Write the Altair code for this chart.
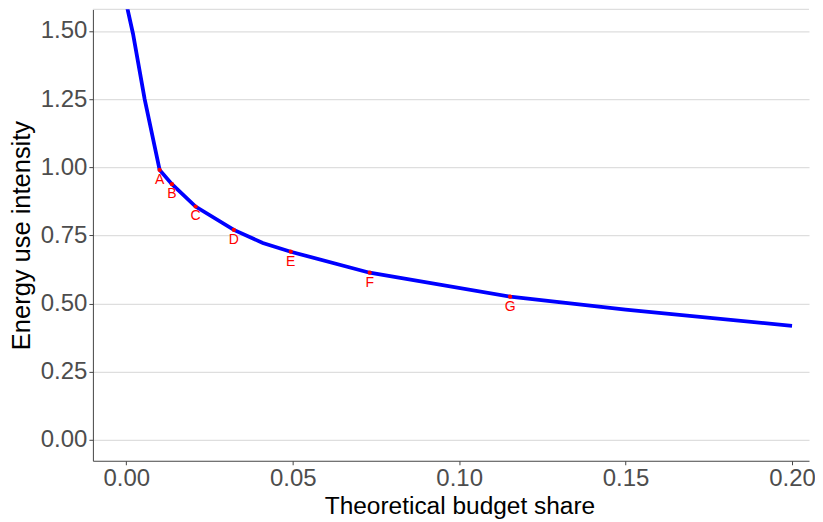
import altair as alt
import pandas as pd

# Curve
line_x = [0.0, 0.002, 0.0055, 0.01, 0.0137, 0.0208, 0.0323, 0.041, 0.0494, 0.0731, 0.1153, 0.15, 0.2]
line_y = [1.60, 1.49, 1.25, 0.99, 0.938, 0.856, 0.770, 0.722, 0.690, 0.613, 0.525, 0.478, 0.418]

# Labelled points
pt_labels = ["A", "B", "C", "D", "E", "F", "G"]
pt_x = [0.01, 0.0137, 0.0208, 0.0323, 0.0494, 0.0731, 0.1153]
pt_y = [0.99, 0.938, 0.856, 0.770, 0.690, 0.613, 0.525]

x_ticks = [0.0, 0.05, 0.10, 0.15, 0.20]
y_ticks = [0.0, 0.25, 0.50, 0.75, 1.00, 1.25, 1.50]

line_df = pd.DataFrame({"x": line_x, "y": line_y})
pt_df = pd.DataFrame({"label": pt_labels, "x": pt_x, "y": pt_y})

W, H = 717, 452
xscale = alt.Scale(domain=[-0.01005, 0.2051], nice=False, zero=False)
yscale = alt.Scale(domain=[-0.077, 1.5796], nice=False, zero=False)

FONT = "Liberation Sans"

xenc = alt.X("x:Q", scale=xscale,
             axis=alt.Axis(values=x_ticks, format=".2f", title="Theoretical budget share",
                           grid=False, labelFontSize=24, labelColor="#4d4d4d",
                           titleFontSize=24.5, titleColor="#000000", titleFontWeight="normal",
                           labelPadding=2, titlePadding=4, tickColor="#444444", tickSize=4,
                           titleX=367, titleAlign="center",
                           domainColor="#444444", labelFont=FONT, titleFont=FONT))
yenc = alt.Y("y:Q", scale=yscale,
             axis=alt.Axis(values=y_ticks, format=".2f", title="Energy use intensity",
                           grid=True, gridColor="#dedede", gridWidth=1.2,
                           labelFontSize=24, labelColor="#4d4d4d",
                           titleFontSize=25.5, titleColor="#000000", titleFontWeight="normal",
                           labelPadding=2, titlePadding=6, tickColor="#444444", tickSize=4,
                           domainColor="#444444", labelFont=FONT, titleFont=FONT))

top_rule = alt.Chart(pd.DataFrame({"a": [0]})).mark_rule(color="#dedede", strokeWidth=1.2).encode(
    x=alt.value(0), x2=alt.value(W), y=alt.value(0))

line = alt.Chart(line_df).mark_line(color="#0000ff", strokeWidth=3.8, clip=True).encode(
    x=xenc, y=yenc)

pts = alt.Chart(pt_df).mark_circle(color="#ff0000", size=18, opacity=1).encode(
    x=alt.X("x:Q", scale=xscale), y=alt.Y("y:Q", scale=yscale))

labels = alt.Chart(pt_df).mark_text(color="#ff0000", fontSize=14, font=FONT,
                                    baseline="top", dy=3).encode(
    x=alt.X("x:Q", scale=xscale), y=alt.Y("y:Q", scale=yscale), text="label:N")

chart = alt.layer(top_rule, line, pts, labels).properties(
    width=W, height=H,
    autosize=alt.AutoSizeParams(type="none"),
    padding={"left": 85, "top": 1, "right": 6, "bottom": 60},
).configure_view(stroke=None)

chart.save("out.html", embed_options={"renderer": "svg", "actions": False})
